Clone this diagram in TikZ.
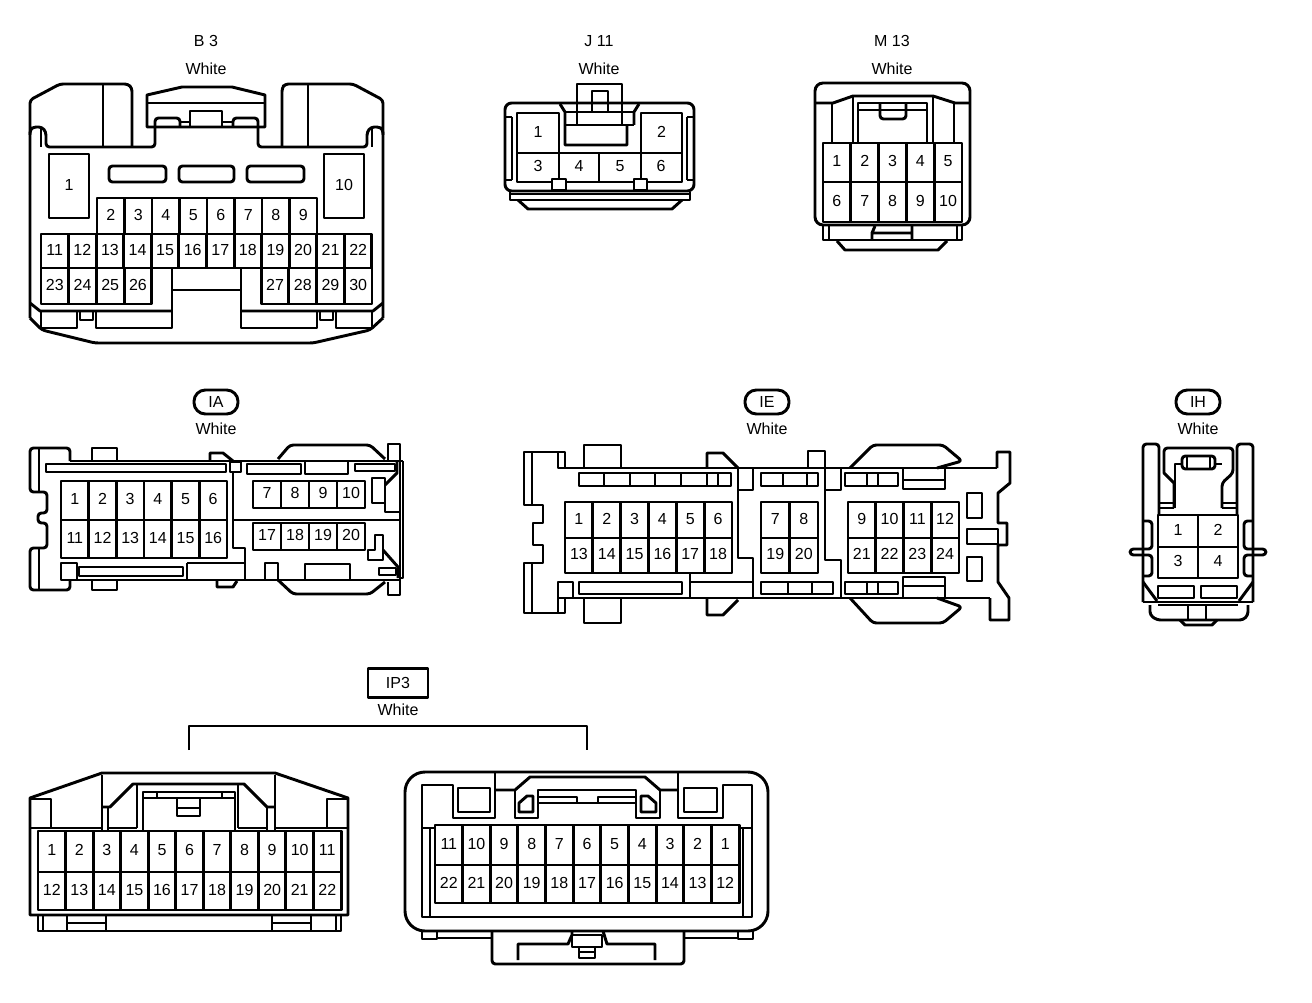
\documentclass[tikz,border=0pt]{standalone}
\usepackage{fontspec}
\setmainfont{Liberation Sans}
\tikzset{
  ln/.style={line width=2.2pt,line join=round,line cap=butt},
  rnd/.style={ln,rounded corners=2.5pt},
  lab/.style={inner sep=0pt,text height=8.6pt,text depth=0pt,font=\fontsize{12}{14}\selectfont},
  tag/.style={ln,draw,rounded corners=8.5pt,minimum width=33pt,minimum height=18pt,inner sep=0pt,text height=8.6pt,text depth=0pt,font=\fontsize{12}{14}\selectfont},
  boxtag/.style={ln,line width=1.8pt,draw,minimum width=45pt,minimum height=22pt,inner sep=0pt,text height=8.6pt,text depth=0pt,font=\fontsize{12}{14}\selectfont},
}
% name, y0, y1, x0, width, labels
\newcommand\cellrow[6]{%
  \foreach \tt [count=\ii from 0] in {#6} {%
    \pgfmathsetmacro\xa{#4+\ii*#5}%
    \pgfmathsetmacro\xb{\xa+#5}%
    \pgfmathsetmacro\xm{\xa+0.5*#5}%
    \pgfmathsetmacro\ym{0.5*(#2+#3)-1.5}%
    \draw[ln] (\xa,#2) rectangle (\xb,#3);
    \node[lab] (#1-\tt) at (\xm,\ym) {\tt};
  }}
% name, x0,y0,x1,y1,label
\newcommand\bigcell[6]{%
  \draw[ln] (#2,#3) rectangle (#4,#5);
  \node[lab] (#1-#6) at ({0.5*(#2+#4)},{0.5*(#3+#5)-1.5}) {#6};}
% y0,y1,{x list}
\newcommand\vlines[3]{\foreach \vx in {#3} {\draw[ln] (\vx,#1) -- (\vx,#2);}}
\begin{document}
\begin{tikzpicture}[x=0.75pt,y=-0.75pt]
\useasboundingbox (0,0) rectangle (1312,1002);
\fill[white] (0,0) rectangle (1312,1002);

% ---------- B3
\node[lab] (b3name) at (206,41) {B 3};
\node[lab] (b3col) at (206,69) {White};
\draw[rnd] (30,318) -- (30,100) -- (60,84) -- (128,84) -- (132,88) -- (132,147);
\draw[rnd] (383,318) -- (383,100) -- (353,84) -- (285,84) -- (282,88) -- (282,147);
\draw[ln] (103,84) -- (103,147) (308,84) -- (308,147);
\draw[rnd] (30,318) -- (42,330) -- (95,343) -- (313,343) -- (370,330) -- (383,318);
\draw[rnd] (30,135) -- (30,130) -- (33,127) -- (42,127) -- (46,132) -- (46,147) -- (155,147) -- (155,118) -- (180,118) -- (180,127);
\draw[rnd] (383,135) -- (383,130) -- (380,127) -- (371,127) -- (367,132) -- (367,147) -- (258,147) -- (258,118) -- (233,118) -- (233,127);
\draw[ln] (41,128) -- (41,147) (372,128) -- (372,147);
\draw[ln] (147,127) -- (147,95) -- (182,87) -- (232,87) -- (265,95) -- (265,127) -- cycle;
\draw[ln] (147,103) -- (265,103);
\draw[ln] (190,127) -- (190,111) -- (222,111) -- (222,127);
\draw[ln] (180,122) -- (190,122) (222,122) -- (233,122);
\draw[rnd] (109,166) rectangle (166,182);
\draw[rnd] (179,166) rectangle (234,182);
\draw[rnd] (247,166) rectangle (304,182);
\bigcell{b3}{49}{154}{89}{218}{1}
\bigcell{b3}{324}{154}{364}{218}{10}
\cellrow{b3}{198}{234}{97}{27.5}{2,3,4,5,6,7,8,9}
\cellrow{b3}{234}{268}{41}{27.58}{11,12,13,14,15,16,17,18,19,20,21,22}
\cellrow{b3}{268}{304}{41}{27.7}{23,24,25,26}
\cellrow{b3}{268}{304}{261.2}{27.7}{27,28,29,30}
\draw[ln] (172,268) -- (172,328) (241,268) -- (241,328) (172,290) -- (241,290);
\draw[ln] (30,303) -- (40,311) -- (172,311) (241,311) -- (373,311) -- (383,303);
\draw[ln] (41,311) rectangle (77,328);
\draw[ln] (80,311) rectangle (93,320);
\draw[ln] (96,311) rectangle (172,328);
\draw[ln] (241,311) rectangle (317,328);
\draw[ln] (320,311) rectangle (333,320);
\draw[ln] (336,311) rectangle (372,328);

% ---------- J11
\node[lab] (j11name) at (599,41) {J 11};
\node[lab] (j11col) at (599,69) {White};
\draw[ln,rounded corners=5pt] (505,103) rectangle (694,191);
\draw[ln] (577,125) -- (577,84) -- (622,84) -- (622,125);
\draw[ln] (592,112) -- (592,91) -- (608,91) -- (608,112);
\draw[ln] (565,112) -- (634,112) (565,125) -- (634,125);
\draw[ln] (560,104) -- (565,112) -- (565,145) -- (627,145) -- (627,125);
\draw[ln] (634,125) -- (634,112) -- (639,104);
\bigcell{j11}{517}{113}{559}{153}{1}
\bigcell{j11}{641}{113}{682}{153}{2}
\draw[ln] (517,153) rectangle (682,182);
\vlines{153}{182}{559,599,641}
\node[lab] (j11-3) at (538,166) {3};
\node[lab] (j11-4) at (579,166) {4};
\node[lab] (j11-5) at (620,166) {5};
\node[lab] (j11-6) at (661,166) {6};
\draw[ln,fill=white] (552,179) rectangle (566,190);
\draw[ln,fill=white] (634,179) rectangle (647,190);
\draw[ln] (512,117) -- (512,180) (687,117) -- (687,180);
\draw[ln] (506,117) -- (512,117) (506,180) -- (512,180) (693,117) -- (687,117) (693,180) -- (687,180);
\draw[ln] (510,192) -- (510,200) -- (690,200) -- (690,192);
\draw[ln] (510,194) -- (690,194);
\draw[ln] (518,200) -- (528,209) -- (672,209) -- (682,200);

% ---------- M13
\node[lab] (m13name) at (892,41) {M 13};
\node[lab] (m13col) at (892,69) {White};
\draw[ln,rounded corners=6pt] (815,83) rectangle (970,225);
\draw[ln] (815,103) -- (833,103) -- (853,96) -- (933,96) -- (955,103) -- (970,103);
\vlines{103}{143}{832,954}
\vlines{96}{143}{853,933}
\draw[ln] (858,143) -- (858,103) -- (927,103) -- (927,143);
\draw[ln] (858,110) -- (927,110);
\draw[rnd] (880,103) -- (880,119) -- (906,119) -- (906,103);
\cellrow{m13}{143}{182}{823}{27.8}{1,2,3,4,5}
\cellrow{m13}{182}{222}{823}{27.8}{6,7,8,9,10}
\draw[ln] (823,225) -- (823,240) -- (962,240) -- (962,225);
\draw[ln] (829,225) -- (829,240) (957,225) -- (957,240);
\draw[ln] (872,240) -- (872,233) -- (875,226) (912,240) -- (912,226) (872,233) -- (912,233);
\draw[ln] (837,241) -- (845,250) -- (938,250) -- (947,241);

% ---------- IA
\node[tag] (ia) at (216,402) {IA};
\node[lab] (iacol) at (216,429) {White};
\draw[rnd] (70,461) -- (70,448) -- (30,448) -- (30,492) -- (47,492) -- (47,513) -- (38,513) -- (38,523) -- (47,523) -- (47,548) -- (30,548) -- (30,590) -- (70,590) -- (70,580);
\draw[ln] (39,448) -- (39,492) (39,548) -- (39,590);
\draw[ln] (70,461) -- (403,461);
\draw[ln] (70,580) -- (400,580);
\draw[ln] (92,461) -- (92,448) -- (117,448) -- (117,461);
\draw[ln] (92,580) -- (92,590) -- (117,590) -- (117,580);
\draw[ln] (210,461) -- (210,453) -- (223,453) -- (233,461);
\draw[ln] (217,580) -- (217,587) -- (233,587) -- (237,581);
\draw[rnd] (278,459) -- (290,445) -- (370,445) -- (385,459);
\draw[rnd] (278,580) -- (293,594) -- (370,594) -- (385,582);
\draw[ln] (388,461) -- (388,444) -- (400,444) -- (400,595) -- (388,595) -- (388,582);
\draw[ln] (403,461) -- (403,578) -- (400,578);
\draw[ln] (46,464) rectangle (226,472);
\draw[ln] (230,462) rectangle (241,472);
\draw[ln] (247,464) rectangle (301,474);
\draw[ln] (305,461) rectangle (348,474);
\draw[ln] (355,464) rectangle (395,471);
\cellrow{ia}{481}{520}{61}{27.67}{1,2,3,4,5,6}
\cellrow{ia}{520}{558}{61}{27.67}{11,12,13,14,15,16}
\draw[ln] (233,472) -- (233,548) -- (245,548) -- (245,580);
\draw[ln] (233,520) -- (400,520);
\cellrow{ia}{481}{508}{253}{28}{7,8,9,10}
\cellrow{ia}{523}{550}{253}{28}{17,18,19,20}
\draw[ln] (372,478) rectangle (385,503);
\draw[ln] (397,461) -- (397,473) -- (385,485);
\draw[ln] (385,503) -- (385,512) -- (400,512);
\draw[ln] (375,550) -- (375,535) -- (383,535) -- (383,560) -- (368,560) -- (368,550) -- cycle;
\draw[ln] (383,550) -- (398,567) -- (398,578);
\draw[ln] (61,563) rectangle (77,580);
\draw[ln] (79,567) rectangle (183,576);
\draw[ln] (187,563) -- (245,563) (187,563) -- (187,580);
\draw[ln] (265,580) -- (265,563) -- (278,563) -- (278,580);
\draw[ln] (305,580) -- (305,564) -- (350,564) -- (350,580);
\draw[ln] (379,568) rectangle (396,575);

% ---------- IE
\node[tag] (ie) at (767,402) {IE};
\node[lab] (iecol) at (767,429) {White};
\draw[ln] (565,468) -- (565,452) -- (524,452) -- (524,505) -- (543,505) -- (543,523) -- (533,523) -- (533,545) -- (543,545) -- (543,563) -- (524,563) -- (524,613) -- (565,613) -- (565,598);
\draw[ln] (532,452) -- (532,505) (532,563) -- (532,613);
\draw[ln] (558,452) -- (558,468) -- (997,468);
\draw[ln] (558,613) -- (558,582) -- (573,582) -- (573,598);
\draw[ln] (558,598) -- (990,598);
\draw[ln] (997,468) -- (997,452) -- (1010,452) -- (1010,483) -- (998,493) -- (998,523) -- (1007,523) -- (1007,545) -- (998,545) -- (998,582) -- (1009,598) -- (1009,620) -- (990,620) -- (990,598);
\draw[ln] (584,468) -- (584,445) -- (621,445) -- (621,468);
\draw[ln] (707,468) -- (707,453) -- (723,453) -- (738,468);
\draw[ln] (808,468) -- (808,451) -- (825,451) -- (825,468);
\draw[rnd] (850,468) -- (873,445) -- (943,445) -- (962,461) -- (937,468);
\draw[ln] (584,598) -- (584,623) -- (621,623) -- (621,598);
\draw[ln] (707,598) -- (707,615) -- (723,615) -- (738,600);
\draw[rnd] (850,598) -- (873,623) -- (943,623) -- (962,607) -- (937,598);
\draw[ln] (579,473) rectangle (731,486);
\vlines{473}{486}{604,630,655,681,707,718}
\draw[ln] (738,468) -- (738,558) -- (753,558) -- (753,598);
\draw[ln] (753,468) -- (753,490) -- (738,490);
\draw[ln] (825,468) -- (825,560) -- (841,560) -- (841,598);
\draw[ln] (841,468) -- (841,490) -- (825,490);
\draw[ln] (761,473) rectangle (818,486);
\vlines{473}{486}{783,807}
\draw[ln] (845,473) rectangle (898,486);
\vlines{473}{486}{867,878}
\draw[ln] (903,468) -- (903,489) -- (945,489) -- (945,468) (903,480) -- (945,480);
\cellrow{ie}{502}{538}{565}{27.83}{1,2,3,4,5,6}
\cellrow{ie}{538}{573}{565}{27.83}{13,14,15,16,17,18}
\cellrow{ie}{502}{538}{761}{28.5}{7,8}
\cellrow{ie}{538}{573}{761}{28.5}{19,20}
\cellrow{ie}{502}{538}{848}{27.75}{9,10,11,12}
\cellrow{ie}{538}{573}{848}{27.75}{21,22,23,24}
\draw[ln] (967,493) rectangle (982,518);
\draw[ln] (967,529) rectangle (998,544);
\draw[ln] (967,557) rectangle (982,581);
\draw[ln] (579,582) rectangle (682,594);
\draw[ln] (690,573) -- (690,598) (690,582) -- (753,582);
\draw[ln] (761,582) rectangle (833,594);
\vlines{582}{594}{788,812}
\draw[ln] (845,582) rectangle (898,594);
\vlines{582}{594}{867,878}
\draw[ln] (903,598) -- (903,577) -- (945,577) -- (945,598) (903,586) -- (945,586);

% ---------- IH
\node[tag] (ih) at (1198,402) {IH};
\node[lab] (ihcol) at (1198,429) {White};
\draw[rnd] (1143,602) -- (1143,444) -- (1159,444) -- (1159,515);
\draw[rnd] (1253,602) -- (1253,444) -- (1237,444) -- (1237,515);
\draw[rnd] (1164,470) -- (1164,448) -- (1233,448) -- (1233,473) -- (1222,483) -- (1222,508);
\draw[ln] (1164,470) -- (1164,473) -- (1174,483) -- (1174,508);
\draw[ln] (1175,508) -- (1175,464) -- (1222,464);
\draw[rnd,fill=white] (1182,456) rectangle (1215,469);
\draw[ln] (1187,456) -- (1187,469) (1210,456) -- (1210,469);
\draw[ln] (1159,503) -- (1174,503) (1159,508) -- (1174,508) (1222,503) -- (1237,503) (1222,508) -- (1237,508);
\cellrow{ih}{515}{547}{1158}{40}{1,2}
\cellrow{ih}{547}{578}{1158}{40}{3,4}
\draw[rnd] (1143,521) -- (1152,521) -- (1152,549) -- (1130,549) -- (1130,555) -- (1152,555) -- (1152,576) -- (1143,576);
\draw[rnd] (1253,521) -- (1244,521) -- (1244,549) -- (1266,549) -- (1266,555) -- (1244,555) -- (1244,576) -- (1253,576);
\draw[ln] (1143,582) -- (1157,601) (1253,582) -- (1239,601);
\draw[ln] (1158,586) rectangle (1194,598);
\draw[ln] (1201,586) rectangle (1237,598);
\draw[ln] (1143,602) -- (1253,602) (1158,605) -- (1238,605);
\draw[rnd] (1150,605) -- (1150,615) -- (1157,620) -- (1243,620) -- (1248,615) -- (1248,605);
\draw[ln] (1188,605) -- (1188,620) (1206,605) -- (1206,620);
\draw[ln] (1180,620) -- (1185,625) -- (1212,625) -- (1217,620);

% ---------- IP3
\node[boxtag] (ip3) at (398,683) {IP3};
\node[lab] (ip3col) at (398,710) {White};
\coordinate (brL) at (189,750);
\coordinate (brR) at (587,750);
\draw[ln] (brL) -- (189,726) -- (587,726) -- (brR);

% IP3 left
\draw[ln] (30,915) -- (30,798) -- (102,773) -- (275,773) -- (348,798) -- (348,915) -- cycle;
\draw[ln] (30,799) -- (51,799) -- (51,828) (348,799) -- (327,799) -- (327,828);
\draw[ln] (30,828) -- (102,828) (108,828) -- (137,828) (238,828) -- (267,828) (275,828) -- (348,828);
\draw[ln] (102,775) -- (102,831) (108,807) -- (108,831) (275,775) -- (275,831) (267,807) -- (267,831);
\draw[ln] (102,807) -- (110,807) -- (133,784) -- (244,784) -- (267,807) -- (275,807);
\draw[ln] (137,784) -- (137,828) (238,784) -- (238,828);
\draw[ln] (143,831) -- (143,792) -- (235,792) -- (235,831);
\draw[ln] (143,798) -- (235,798) (157,792) -- (157,798) (222,792) -- (222,798);
\draw[ln] (177,798) -- (177,816) -- (200,816) -- (200,798) (177,808) -- (200,808);
\cellrow{ip3l}{831}{872}{38}{27.55}{1,2,3,4,5,6,7,8,9,10,11}
\cellrow{ip3l}{872}{910}{38}{27.55}{12,13,14,15,16,17,18,19,20,21,22}
\draw[ln] (38,915) -- (38,931) -- (341,931) -- (341,915);
\draw[ln] (43,915) -- (43,931) (336,915) -- (336,931);
\draw[ln] (67,915) rectangle (106,931);
\draw[ln] (67,923) -- (106,923);
\draw[ln] (272,915) rectangle (311,931);
\draw[ln] (272,923) -- (311,923);

% IP3 right
\draw[ln,rounded corners=15pt] (405,772) rectangle (768,931);
\draw[ln] (495,772) -- (495,818) -- (453,818) -- (453,785) -- (422,785) -- (422,917) -- (752,917) -- (752,785) -- (723,785) -- (723,818) -- (678,818) -- (678,772);
\draw[ln] (458,788) rectangle (490,812);
\draw[ln] (684,788) rectangle (717,812);
\draw[ln] (495,790) -- (515,790) -- (530,777) -- (645,777) -- (660,790) -- (678,790);
\draw[ln] (515,790) -- (515,818) -- (538,818) -- (538,790) -- (636,790) -- (636,818) -- (660,818) -- (660,790);
\draw[ln] (519,812) -- (519,803) -- (527,796) -- (533,796) -- (533,812) -- cycle;
\draw[ln] (641,796) -- (648,796) -- (656,803) -- (656,812) -- (641,812) -- cycle;
\draw[ln] (538,797) -- (577,797) -- (577,803) -- (538,803);
\draw[ln] (636,797) -- (598,797) -- (598,803) -- (636,803);
\draw[ln] (577,803) -- (598,803);
\draw[ln] (422,828) -- (435,828) (430,828) -- (430,917) (752,828) -- (739,828) (743,828) -- (743,917);
\cellrow{ip3r}{825}{865}{435}{27.64}{11,10,9,8,7,6,5,4,3,2,1}
\cellrow{ip3r}{865}{903}{435}{27.64}{22,21,20,19,18,17,16,15,14,13,12}
\draw[ln] (422,931) -- (422,939) -- (437,939) -- (437,931) (437,938) -- (492,938);
\draw[rnd] (492,931) -- (492,964) -- (684,964) -- (684,931);
\draw[ln] (684,938) -- (738,938) (738,931) -- (738,939) -- (753,939) -- (753,931);
\draw[ln] (518,960) -- (518,944) -- (568,944) -- (572,935) -- (572,931);
\draw[ln] (655,960) -- (655,944) -- (607,944) -- (603,931);
\draw[ln] (572,935) -- (602,935) -- (602,947) -- (572,947) -- cycle;
\draw[ln] (579,947) rectangle (595,958);
\draw[ln] (579,952) -- (595,952);
\end{tikzpicture}
\end{document}
